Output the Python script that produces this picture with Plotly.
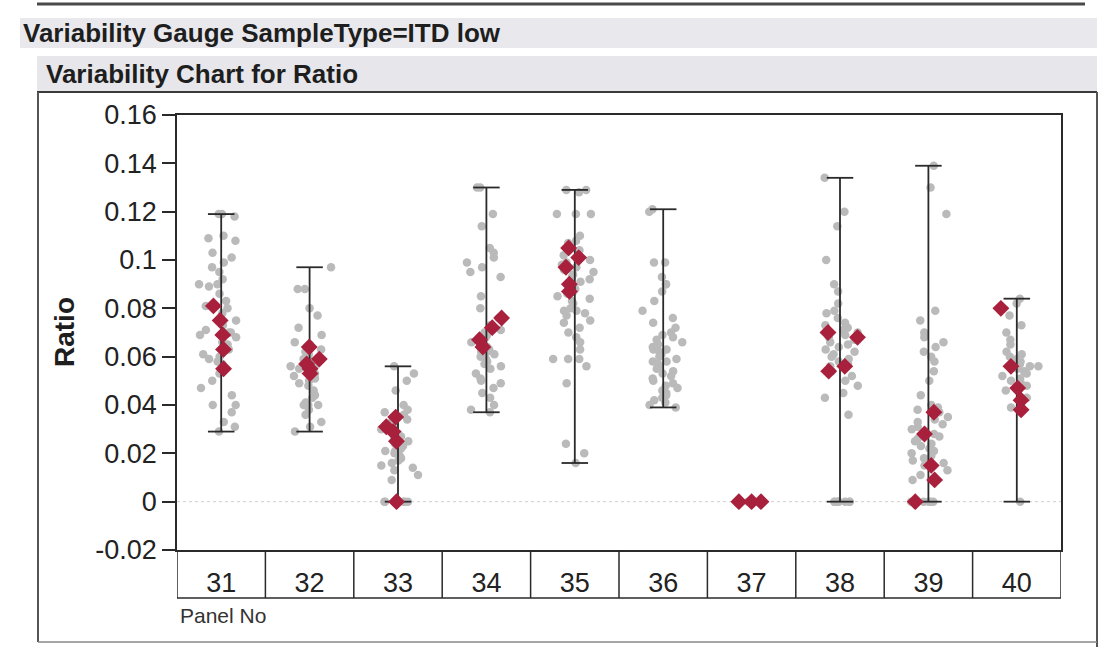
import plotly.graph_objects as go

# ---------------- data ----------------
panels = ["31", "32", "33", "34", "35", "36", "37", "38", "39", "40"]

ratio_31 = [0.119, 0.119, 0.118, 0.110, 0.109, 0.108, 0.103, 0.101, 0.099, 0.097, 0.095, 0.092,
            0.090, 0.090, 0.089, 0.086, 0.083, 0.081, 0.080, 0.078, 0.075, 0.073, 0.071, 0.070,
            0.070, 0.069, 0.068, 0.066, 0.065, 0.063, 0.061, 0.060, 0.059, 0.058, 0.057, 0.055,
            0.053, 0.050, 0.047, 0.044, 0.040, 0.040, 0.037, 0.033, 0.031, 0.029]
ratio_32 = [0.097, 0.088, 0.088, 0.080, 0.077, 0.072, 0.069, 0.066, 0.065, 0.063, 0.062, 0.061,
            0.060, 0.059, 0.058, 0.058, 0.057, 0.056, 0.056, 0.055, 0.055, 0.054, 0.053, 0.052,
            0.051, 0.050, 0.049, 0.048, 0.046, 0.044, 0.043, 0.041, 0.040, 0.040, 0.040, 0.038,
            0.036, 0.033, 0.031, 0.029]
ratio_33 = [0.056, 0.053, 0.050, 0.046, 0.040, 0.038, 0.037, 0.036, 0.035, 0.034, 0.033, 0.032,
            0.031, 0.031, 0.030, 0.029, 0.028, 0.027, 0.027, 0.026, 0.025, 0.024, 0.024, 0.023,
            0.022, 0.021, 0.021, 0.020, 0.019, 0.018, 0.017, 0.016, 0.015, 0.014, 0.013, 0.011,
            0.009, 0.0, 0.0, 0.0, 0.0, 0.0, 0.0]
ratio_34 = [0.130, 0.130, 0.119, 0.114, 0.105, 0.103, 0.101, 0.099, 0.097, 0.095, 0.093, 0.085,
            0.080, 0.076, 0.073, 0.071, 0.070, 0.069, 0.068, 0.067, 0.066, 0.065, 0.064, 0.063,
            0.062, 0.062, 0.061, 0.060, 0.059, 0.058, 0.057, 0.056, 0.055, 0.053, 0.051, 0.050,
            0.049, 0.047, 0.045, 0.043, 0.040, 0.038, 0.037]
ratio_35 = [0.129, 0.129, 0.128, 0.119, 0.119, 0.119, 0.110, 0.108, 0.107, 0.104, 0.102, 0.100,
            0.099, 0.098, 0.097, 0.096, 0.095, 0.094, 0.093, 0.092, 0.091, 0.090, 0.089, 0.088,
            0.087, 0.086, 0.085, 0.084, 0.083, 0.082, 0.080, 0.079, 0.079, 0.078, 0.077, 0.075,
            0.074, 0.072, 0.070, 0.068, 0.066, 0.063, 0.059, 0.059, 0.059, 0.056, 0.049, 0.024,
            0.020, 0.016]
ratio_36 = [0.121, 0.120, 0.099, 0.099, 0.093, 0.090, 0.090, 0.087, 0.083, 0.079, 0.076, 0.074,
            0.072, 0.070, 0.069, 0.068, 0.067, 0.066, 0.065, 0.064, 0.063, 0.063, 0.062, 0.061,
            0.060, 0.059, 0.058, 0.058, 0.057, 0.056, 0.055, 0.054, 0.053, 0.052, 0.051, 0.050,
            0.049, 0.048, 0.047, 0.046, 0.045, 0.044, 0.043, 0.042, 0.041, 0.040, 0.039]
ratio_37 = [0.0, 0.0, 0.0, 0.0, 0.0, 0.0]
ratio_38 = [0.134, 0.120, 0.114, 0.100, 0.090, 0.087, 0.082, 0.079, 0.078, 0.076, 0.074, 0.073,
            0.072, 0.071, 0.070, 0.069, 0.068, 0.067, 0.066, 0.065, 0.064, 0.063, 0.062, 0.061,
            0.060, 0.059, 0.058, 0.057, 0.056, 0.054, 0.052, 0.050, 0.048, 0.045, 0.043, 0.036,
            0.0, 0.0, 0.0, 0.0, 0.0, 0.0, 0.0, 0.0]
ratio_39 = [0.139, 0.130, 0.119, 0.079, 0.075, 0.070, 0.068, 0.066, 0.064, 0.062, 0.060, 0.058,
            0.054, 0.050, 0.044, 0.040, 0.039, 0.038, 0.037, 0.036, 0.035, 0.034, 0.033, 0.032,
            0.031, 0.030, 0.029, 0.028, 0.027, 0.026, 0.025, 0.024, 0.023, 0.022, 0.021, 0.020,
            0.019, 0.018, 0.017, 0.016, 0.015, 0.013, 0.011, 0.009, 0.0, 0.0, 0.0, 0.0, 0.0]
ratio_40 = [0.084, 0.082, 0.077, 0.073, 0.070, 0.067, 0.065, 0.062, 0.061, 0.060, 0.059, 0.058,
            0.057, 0.056, 0.056, 0.055, 0.054, 0.053, 0.052, 0.051, 0.050, 0.049, 0.048, 0.046,
            0.043, 0.040, 0.039, 0.0]

mean_31 = [0.069, 0.081, 0.075, 0.063, 0.055]
mean_32 = [0.064, 0.059, 0.057, 0.055, 0.053]
mean_33 = [0.035, 0.031, 0.029, 0.025, 0.0]
mean_34 = [0.076, 0.072, 0.067, 0.064]
mean_35 = [0.105, 0.101, 0.097, 0.090, 0.087]
mean_36 = []
mean_37 = [0.0, 0.0, 0.0]
mean_38 = [0.070, 0.068, 0.056, 0.054]
mean_39 = [0.037, 0.028, 0.015, 0.009, 0.0]
mean_40 = [0.080, 0.056, 0.047, 0.042, 0.038]

y_ticks = [-0.02, 0.0, 0.02, 0.04, 0.06, 0.08, 0.1, 0.12, 0.14, 0.16]
y_tick_text = ["-0.02", "0", "0.02", "0.04", "0.06", "0.08", "0.1", "0.12", "0.14", "0.16"]

ratios = [ratio_31, ratio_32, ratio_33, ratio_34, ratio_35, ratio_36, ratio_37, ratio_38, ratio_39, ratio_40]
means = [mean_31, mean_32, mean_33, mean_34, mean_35, mean_36, mean_37, mean_38, mean_39, mean_40]

# ---------------- geometry helpers ----------------
W, H = 1106, 647
L, R, T, B = 177, 1061, 115, 550

def px(X):   # page pixel x -> paper
    return (X - L) / (R - L)

def py(Y):   # page pixel y -> paper
    return (B - Y) / (B - T)

def frac(v):
    return v - int(v)

def jitter(i, k, amp):
    a = frac(i * 0.6180339887 + k * 0.37)
    b = frac(i * i * 0.4142135624 + k * 0.53)
    return amp * ((a + b) - 1.0)

FONT = "Liberation Sans, Arial, sans-serif"
GRAY = "#bababa"
RED = "#a8203c"
DARK = "#2a2a2a"

fig = go.Figure()

# gray raw points
gx, gy = [], []
for k, vals in enumerate(ratios):
    for i, v in enumerate(vals):
        gx.append(k + jitter(i + 1, k, 0.26))
        gy.append(v)
fig.add_trace(go.Scatter(x=gx, y=gy, mode="markers",
                         marker=dict(color=GRAY, size=8.5, line=dict(width=0)),
                         hoverinfo="y", showlegend=False))

# range bars (min..max of each panel)
bx, by = [], []
cap = 0.15
for k, vals in enumerate(ratios):
    lo, hi = min(vals), max(vals)
    bx += [k, k, None, k - cap, k + cap, None, k - cap, k + cap, None]
    by += [lo, hi, None, hi, hi, None, lo, lo, None]
fig.add_trace(go.Scatter(x=bx, y=by, mode="lines",
                         line=dict(color=DARK, width=1.8),
                         hoverinfo="skip", showlegend=False))

# red diamonds
rx, ry = [], []
for k, vals in enumerate(means):
    for i, v in enumerate(vals):
        rx.append(k + jitter(i + 3, k + 5, 0.22))
        ry.append(v)
fig.add_trace(go.Scatter(x=rx, y=ry, mode="markers",
                         marker=dict(color=RED, size=13, symbol="diamond", line=dict(width=0)),
                         hoverinfo="y", showlegend=False))

shapes = []
# faint dotted reference line at 0
shapes.append(dict(type="line", xref="paper", yref="y", x0=0, x1=1, y0=0, y1=0,
                   line=dict(color="#cfcfcf", width=1, dash="dot"), layer="below"))
# header bands
shapes.append(dict(type="rect", xref="paper", yref="paper", x0=px(20), x1=px(1097),
                   y0=py(48), y1=py(18), fillcolor="#e9e9ed", line=dict(width=0), layer="below"))
shapes.append(dict(type="rect", xref="paper", yref="paper", x0=px(37), x1=px(1097),
                   y0=py(92), y1=py(56), fillcolor="#e7e7eb", line=dict(width=0), layer="below"))
# top dark rule
shapes.append(dict(type="line", xref="paper", yref="paper", x0=px(37), x1=px(1085),
                   y0=py(4), y1=py(4), line=dict(color="#4a4a4a", width=3)))
# frame lines
shapes.append(dict(type="line", xref="paper", yref="paper", x0=px(37), x1=px(1097),
                   y0=py(92), y1=py(92), line=dict(color="#3a3a3a", width=2)))
shapes.append(dict(type="line", xref="paper", yref="paper", x0=px(38), x1=px(38),
                   y0=py(92), y1=py(642), line=dict(color="#555", width=2)))
shapes.append(dict(type="line", xref="paper", yref="paper", x0=px(1097), x1=px(1097),
                   y0=py(92), y1=py(647), line=dict(color="#555", width=2)))
shapes.append(dict(type="line", xref="paper", yref="paper", x0=px(38), x1=px(1097),
                   y0=py(642), y1=py(642), line=dict(color="#888", width=1.5)))
# category label boxes
for k in range(len(panels) + 1):
    shapes.append(dict(type="line", xref="x", yref="paper", x0=k - 0.5, x1=k - 0.5,
                       y0=0, y1=py(598), line=dict(color=DARK, width=1.5)))
shapes.append(dict(type="line", xref="x", yref="paper", x0=-0.5, x1=len(panels) - 0.5,
                   y0=py(598), y1=py(598), line=dict(color=DARK, width=1.5)))

annotations = [
    dict(text="Variability Gauge SampleType=ITD low", xref="paper", yref="paper",
         x=px(21), y=py(33), xanchor="left", yanchor="middle", showarrow=False,
         font=dict(family=FONT, size=26, color="#1e1e1e", weight="bold")),
    dict(text="Variability Chart for Ratio", xref="paper", yref="paper",
         x=px(44), y=py(74), xanchor="left", yanchor="middle", showarrow=False,
         font=dict(family=FONT, size=26, color="#1e1e1e", weight="bold")),
    dict(text="Ratio", xref="paper", yref="paper", x=px(64), y=py(332),
         xanchor="center", yanchor="middle", textangle=-90, showarrow=False,
         font=dict(family=FONT, size=28, color="#1e1e1e", weight="bold")),
    dict(text="Panel No", xref="paper", yref="paper", x=px(178), y=py(615),
         xanchor="left", yanchor="middle", showarrow=False,
         font=dict(family=FONT, size=21, color="#333")),
]

fig.update_layout(
    width=W, height=H,
    margin=dict(l=L, r=W - R, t=T, b=H - B),
    paper_bgcolor="white", plot_bgcolor="white",
    shapes=shapes, annotations=annotations,
    showlegend=False,
    xaxis=dict(range=[-0.5, len(panels) - 0.5], tickmode="array",
               tickvals=list(range(len(panels))), ticktext=panels,
               ticks="outside", ticklen=8, tickcolor="rgba(0,0,0,0)",
               tickfont=dict(family=FONT, size=27, color="#222"),
               showline=True, linecolor=DARK, linewidth=1.5, mirror=True,
               showgrid=False, zeroline=False),
    yaxis=dict(range=[-0.02, 0.16], tickmode="array", tickvals=y_ticks, ticktext=y_tick_text,
               ticks="outside", ticklen=13, tickwidth=1.5, tickcolor=DARK,
               tickfont=dict(family=FONT, size=27, color="#222"),
               showline=True, linecolor=DARK, linewidth=1.5, mirror=True,
               showgrid=False, zeroline=False),
)

# remove the default page margin so the figure sits at the window origin
fig.write_html("out.html", config={"displayModeBar": False},
               post_script="document.body.style.margin='0';document.body.style.overflow='hidden';")
